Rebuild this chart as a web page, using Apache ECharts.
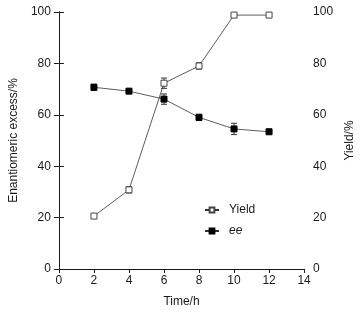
<!DOCTYPE html>
<html>
<head>
<meta charset="utf-8">
<script src="https://cdn.jsdelivr.net/npm/echarts@6/dist/echarts.min.js"></script>
<style>
  html, body { margin: 0; padding: 0; background: #fff; }
  #chart { width: 364px; height: 313px; }
</style>
</head>
<body>
<div id="chart"></div>
<script>
const times = [2, 4, 6, 8, 10, 12];
const yieldVals = [20.6, 30.8, 72.3, 79, 98.8, 98.8];
const yieldErr = [0, 1.2, 2, 1.2, 0, 0];
const eeVals = [70.7, 69.2, 66.1, 59, 54.5, 53.4];
const eeErr = [1.2, 0, 2, 1.2, 2.2, 0];

const fontFam = 'Liberation Sans, Arial, sans-serif';
const ink = '#1a1a1a';

function pairs(vals) {
  return times.map((t, i) => [t, vals[i]]);
}
function errData(vals, errs) {
  return times.map((t, i) => [t, vals[i] - errs[i], vals[i] + errs[i]]).filter((d, i) => errs[i] > 0);
}

// vertical bar + caps
function renderErr(params, api) {
  const x = api.value(0);
  const lo = api.coord([x, api.value(1)]);
  const hi = api.coord([x, api.value(2)]);
  const w = 3;
  const st = { stroke: '#333', lineWidth: 1 };
  return {
    type: 'group',
    children: [
      { type: 'line', shape: { x1: lo[0], y1: lo[1], x2: hi[0], y2: hi[1] }, style: st },
      { type: 'line', shape: { x1: lo[0] - w, y1: lo[1], x2: lo[0] + w, y2: lo[1] }, style: st },
      { type: 'line', shape: { x1: hi[0] - w, y1: hi[1], x2: hi[0] + w, y2: hi[1] }, style: st }
    ]
  };
}

const chart = echarts.init(document.getElementById('chart'));

const axisLabel = { color: ink, fontSize: 12, fontFamily: fontFam };
const axisLine = { show: true, lineStyle: { color: ink, width: 1 } };
const nameStyle = { color: ink, fontSize: 12, fontFamily: fontFam };

const option = {
  animation: false,
  grid: { left: 58, right: 45, top: 12, bottom: 40 },
  legend: {
    left: 199,
    top: 199,
    orient: 'vertical',
    itemGap: 9,
    itemWidth: 14,
    itemHeight: 6,
    textStyle: {
      color: ink, fontSize: 12, fontFamily: fontFam, padding: [0, 0, 0, 5],
      rich: { i: { fontStyle: 'italic', fontSize: 12, fontFamily: fontFam, color: ink } }
    },
    formatter: function (n) { return n === 'ee' ? '{i|ee}' : n; },
    data: ['Yield', 'ee']
  },
  xAxis: [
    {
      type: 'value', min: 0, max: 14, interval: 2,
      name: 'Time/h', nameLocation: 'middle', nameGap: 27,
      nameTextStyle: nameStyle,
      axisLine: axisLine,
      axisTick: { show: true, length: 4, lineStyle: { color: ink } },
      axisLabel: Object.assign({ margin: 6 }, axisLabel),
      splitLine: { show: false }
    },
    {
      type: 'value', min: 0, max: 14, position: 'top',
      axisLine: axisLine, axisTick: { show: false }, axisLabel: { show: false },
      splitLine: { show: false }
    }
  ],
  yAxis: [
    {
      type: 'value', min: 0, max: 100, interval: 20,
      name: 'Enantiomeric excess/%', nameLocation: 'middle', nameGap: 30,
      nameTextStyle: nameStyle,
      axisLine: axisLine,
      axisTick: { show: true, length: 5, lineStyle: { color: ink } },
      axisLabel: Object.assign({ margin: 8 }, axisLabel),
      splitLine: { show: false }
    },
    {
      type: 'value', min: 0, max: 100, interval: 20, position: 'right',
      name: 'Yield/%', nameLocation: 'middle', nameGap: 23, nameRotate: 90,
      nameTextStyle: nameStyle,
      axisLine: axisLine,
      axisTick: { show: true, length: 5, lineStyle: { color: ink } },
      axisLabel: Object.assign({ margin: 9 }, axisLabel),
      splitLine: { show: false }
    }
  ],
  series: [
    {
      name: 'Yield', type: 'line', yAxisIndex: 1,
      data: pairs(yieldVals),
      symbol: 'rect', symbolSize: 6,
      lineStyle: { color: '#333', width: 0.8 },
      itemStyle: { color: '#fff', borderColor: '#444', borderWidth: 1 },
      z: 3
    },
    {
      name: 'ee', type: 'line', yAxisIndex: 0,
      data: pairs(eeVals),
      symbol: 'rect', symbolSize: 6,
      lineStyle: { color: '#333', width: 0.8 },
      itemStyle: { color: '#000', borderColor: '#000', borderWidth: 1 },
      z: 3
    },
    {
      type: 'custom', yAxisIndex: 1, renderItem: renderErr,
      data: errData(yieldVals, yieldErr), z: 2, silent: true
    },
    {
      type: 'custom', yAxisIndex: 0, renderItem: renderErr,
      data: errData(eeVals, eeErr), z: 2, silent: true
    }
  ]
};

chart.setOption(option);
window.addEventListener('resize', function () { chart.resize(); });
</script>
</body>
</html>
